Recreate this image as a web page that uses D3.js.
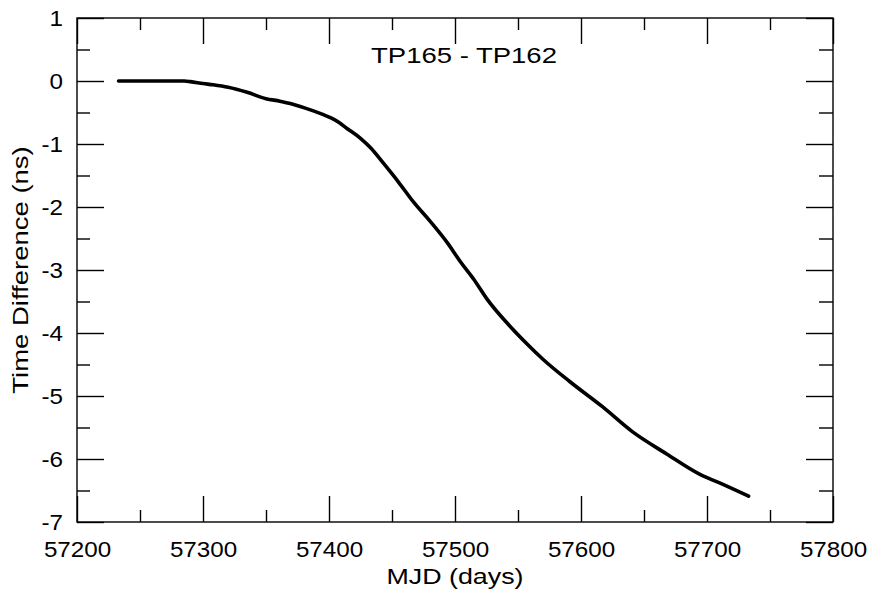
<!DOCTYPE html>
<html>
<head>
<meta charset="utf-8">
<script src="https://cdn.jsdelivr.net/npm/d3@7"></script>
<style>
  body { margin: 0; background: #fff; }
  svg text { font-family: "Liberation Sans", Arial, Helvetica, sans-serif; fill: #000; }
</style>
</head>
<body>
<svg id="chart" width="869" height="594"></svg>
<script>
// values
const mjd = [57233, 57260, 57285, 57290, 57300, 57308, 57320, 57335, 57350, 57361,
             57370, 57387, 57395, 57402, 57408, 57414, 57425, 57433, 57443, 57455,
             57467, 57480, 57494, 57504, 57515, 57525, 57544, 57557, 57570, 57591,
             57617, 57641, 57668, 57694, 57710, 57733];
const diff = [0, 0, 0, -0.01, -0.04, -0.06, -0.10, -0.18, -0.28, -0.32,
              -0.36, -0.47, -0.53, -0.59, -0.66, -0.75, -0.91, -1.06, -1.30, -1.60,
              -1.92, -2.22, -2.57, -2.86, -3.15, -3.45, -3.90, -4.17, -4.42, -4.77,
              -5.17, -5.57, -5.92, -6.24, -6.38, -6.59];
const xMajor = [57200, 57300, 57400, 57500, 57600, 57700, 57800];
const yMajor = [1, 0, -1, -2, -3, -4, -5, -6, -7];
const titleText = "TP165 - TP162";
const xLabel = "MJD (days)";
const yLabel = "Time Difference (ns)";

const svg = d3.select("#chart");
const plotL = 77, plotR = 833, plotT = 18, plotB = 522;

const x = d3.scaleLinear().domain([57200, 57800]).range([plotL, plotR]);
const y = d3.scaleLinear().domain([-7, 1]).range([plotB, plotT]);

const xMinor = d3.range(57250, 57800, 100);
const yMinor = d3.range(-6.5, 1, 1);

function styleAxis(g) {
    g.select(".domain").remove();
    g.selectAll("line").attr("stroke", "#000").attr("stroke-width", 1.4);
}

// bottom / top ticks, pointing inward
svg.append("g").attr("transform", `translate(0,${plotB})`)
    .call(d3.axisBottom(x).tickValues(xMajor).tickSize(-26).tickPadding(0).tickFormat(d => String(d)))
    .call(styleAxis)
    .call(g => g.selectAll("text")
        .attr("y", 0).attr("dy", 0)
        .attr("transform", "translate(0,35) scale(1.1,1)")
        .attr("font-size", 22));
svg.append("g").attr("transform", `translate(0,${plotB})`)
    .call(d3.axisBottom(x).tickValues(xMinor).tickSize(-12).tickFormat(""))
    .call(styleAxis);
svg.append("g").attr("transform", `translate(0,${plotT})`)
    .call(d3.axisTop(x).tickValues(xMajor).tickSize(-26).tickFormat(""))
    .call(styleAxis);
svg.append("g").attr("transform", `translate(0,${plotT})`)
    .call(d3.axisTop(x).tickValues(xMinor).tickSize(-12).tickFormat(""))
    .call(styleAxis);

// left / right ticks
svg.append("g").attr("transform", `translate(${plotL},0)`)
    .call(d3.axisLeft(y).tickValues(yMajor).tickSize(-27).tickPadding(0).tickFormat(d => String(d)))
    .call(styleAxis)
    .call(g => g.selectAll("text")
        .attr("x", 0).attr("dy", "0.36em")
        .attr("transform", "translate(-14,0) scale(1.1,1)")
        .attr("font-size", 22));
svg.append("g").attr("transform", `translate(${plotL},0)`)
    .call(d3.axisLeft(y).tickValues(yMinor).tickSize(-13).tickFormat(""))
    .call(styleAxis);
svg.append("g").attr("transform", `translate(${plotR},0)`)
    .call(d3.axisRight(y).tickValues(yMajor).tickSize(-27).tickFormat(""))
    .call(styleAxis);
svg.append("g").attr("transform", `translate(${plotR},0)`)
    .call(d3.axisRight(y).tickValues(yMinor).tickSize(-14).tickFormat(""))
    .call(styleAxis);

// frame
svg.append("rect")
    .attr("x", plotL).attr("y", plotT)
    .attr("width", plotR - plotL).attr("height", plotB - plotT)
    .attr("fill", "none").attr("stroke", "#000").attr("stroke-width", 1.4);

// the curve
const line = d3.line()
    .x((d, i) => x(mjd[i]))
    .y(d => y(d))
    .curve(d3.curveMonotoneX);

svg.append("path")
    .datum(diff)
    .attr("d", line)
    .attr("fill", "none")
    .attr("stroke", "#000")
    .attr("stroke-width", 3.6)
    .attr("stroke-linejoin", "round")
    .attr("stroke-linecap", "round");

// texts
svg.append("text")
    .attr("transform", "translate(464,63) scale(1.25,1)")
    .attr("text-anchor", "middle")
    .attr("font-size", 22)
    .text(titleText);

svg.append("text")
    .attr("transform", `translate(${(plotL + plotR) / 2},584) scale(1.22,1)`)
    .attr("text-anchor", "middle")
    .attr("font-size", 22)
    .text(xLabel);

svg.append("text")
    .attr("transform", `translate(28,${(plotT + plotB) / 2}) rotate(-90) scale(1.25,1)`)
    .attr("text-anchor", "middle")
    .attr("font-size", 22)
    .text(yLabel);
</script>
</body>
</html>
